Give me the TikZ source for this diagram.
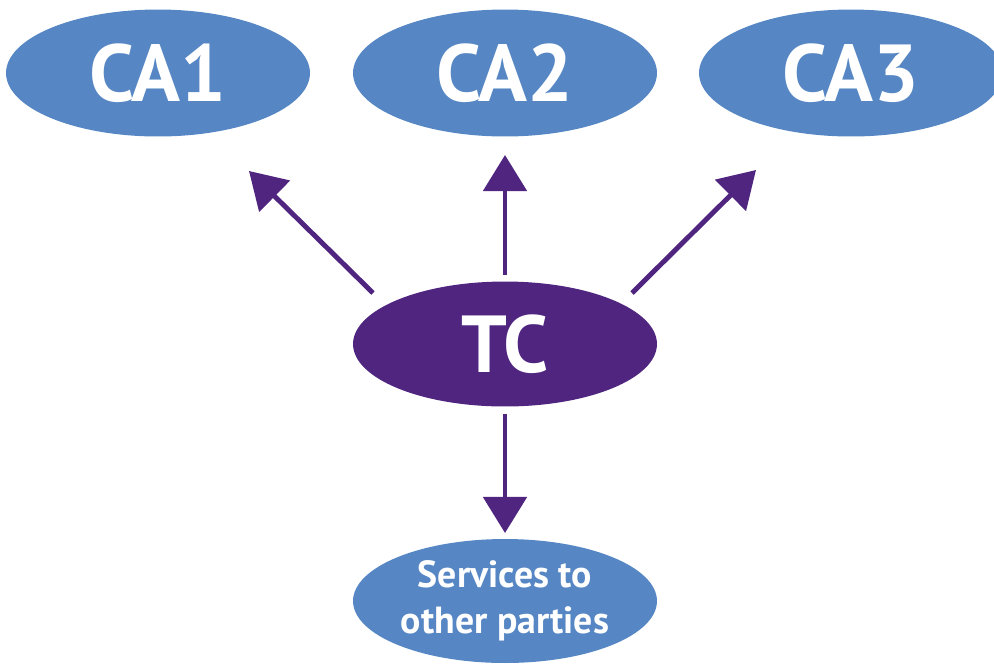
\documentclass[tikz,border=0pt]{standalone}
\usepackage{fontspec}
\setmainfont{PT Sans}
\usetikzlibrary{arrows.meta,shapes.geometric}
\definecolor{caclr}{RGB}{86,135,196}
\definecolor{tcclr}{RGB}{79,37,128}
\tikzset{
  party/.style={ellipse,fill=caclr,text=white,inner sep=0pt,
                minimum width=6.08cm,minimum height=2.54cm,
                font=\fontsize{46}{50}\selectfont\bfseries},
  hub/.style={party,fill=tcclr,minimum height=2.5cm},
  svc/.style={party,minimum height=2.48cm,align=center,
              font=\fontsize{21.5}{26}\selectfont\bfseries},
  conn/.style={draw=tcclr,line width=2.8pt,
               -{Triangle[length=20.5pt,width=24.5pt]}},
}

\begin{document}
\begin{tikzpicture}[x=0.02cm,y=-0.02cm]
\useasboundingbox (0,0) rectangle (994,664);
% certification authorities
\node[party] (ca1) at (158,73) {CA1};
\node[party] (ca2) at (505,73) {CA2};
\node[party] (ca3) at (851,73) {CA3};
% trust centre and its users
\node[hub] (tc) at (505,344) {TC};
\node[svc] (svc) at (505,601) {Services to\\other parties};
% arrow ends
\coordinate (to1) at (249,171);
\coordinate (to2) at (505,155);
\coordinate (to3) at (756,170);
\coordinate (to4) at (505,533);
\draw[conn] ([shift={(-132,-51)}]tc.center) -- (to1);
\draw[conn] ([shift={(0,-69)}]tc.center) -- (to2);
\draw[conn] ([shift={(127,-51)}]tc.center) -- (to3);
\draw[conn] ([shift={(0,70)}]tc.center) -- (to4);
\end{tikzpicture}
\end{document}
